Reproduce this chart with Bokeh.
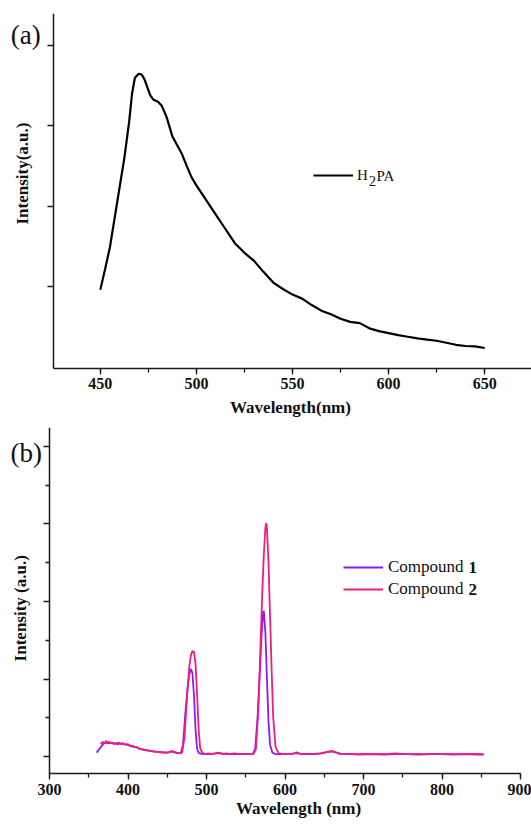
import math
from bokeh.plotting import figure
from bokeh.layouts import column
from bokeh.models import (SingleIntervalTicker, FixedTicker, Legend, LegendItem, Label,
                          CustomJSTickFormatter)
from bokeh.embed import file_html
from bokeh.resources import INLINE

# ---------------- data: panel (a) H2PA emission ----------------
wl_a = [450, 452.5, 455, 457.5, 460, 462.5, 465, 466.5, 468, 470, 471.5, 473, 474.5,
        476, 477.5, 480, 482, 484.5, 487.5, 490, 492.5, 495, 497.5, 500, 505, 510,
        515, 520, 525, 530, 535, 540, 545, 550, 555, 560, 565, 570, 575, 580, 585,
        590, 595, 600, 605, 610, 615, 620, 625, 630, 635, 640, 645, 650]
int_a = [0.96, 1.22, 1.49, 1.86, 2.23, 2.60, 3.05, 3.40, 3.60, 3.65, 3.64, 3.58, 3.48,
         3.38, 3.33, 3.30, 3.25, 3.11, 2.87, 2.76, 2.65, 2.50, 2.36, 2.26, 2.08, 1.90,
         1.72, 1.54, 1.42, 1.32, 1.18, 1.05, 0.97, 0.90, 0.85, 0.77, 0.70, 0.655, 0.60,
         0.56, 0.545, 0.48, 0.445, 0.42, 0.395, 0.375, 0.355, 0.34, 0.325, 0.30, 0.275,
         0.26, 0.255, 0.235]

# ---------------- data: panel (b) compounds 1 and 2 ----------------
wl_c1 = [360, 363, 366, 369, 372, 375, 379, 383, 387, 391, 395, 400, 405, 410, 415,
         420, 426, 432, 438, 444, 450, 455, 460, 464, 467, 470, 473, 476, 478, 480,
         482, 484, 486, 488, 490, 494, 500, 506, 512, 516, 522, 530, 538, 546, 552,
         556, 559, 562, 565, 568, 570, 572, 573, 575, 577, 579, 581, 584, 588, 594,
         600, 608, 615, 622, 632, 645, 655, 660, 665, 672, 682, 695, 710, 725, 740,
         755, 770, 785, 800, 815, 830, 845, 853]
int_c1 = [0.05, 0.09, 0.13, 0.17, 0.18, 0.17, 0.18, 0.17, 0.16, 0.17, 0.16, 0.15, 0.13,
          0.12, 0.10, 0.085, 0.075, 0.065, 0.06, 0.055, 0.05, 0.065, 0.05, 0.045, 0.04,
          0.15, 0.55, 0.90, 1.05, 1.13, 1.08, 0.80, 0.35, 0.10, 0.045, 0.035, 0.03,
          0.035, 0.04, 0.045, 0.035, 0.03, 0.035, 0.03, 0.03, 0.03, 0.035, 0.10, 0.50,
          1.10, 1.55, 1.85, 1.88, 1.60, 1.00, 0.45, 0.15, 0.05, 0.03, 0.03, 0.03, 0.035,
          0.045, 0.03, 0.03, 0.04, 0.06, 0.065, 0.05, 0.035, 0.03, 0.025, 0.03, 0.025,
          0.03, 0.03, 0.025, 0.03, 0.03, 0.025, 0.03, 0.025, 0.025]

wl_c2 = [365, 366, 368, 370, 372, 374, 376, 378, 380, 382, 385, 388, 391, 394, 397,
         400, 403, 406, 409, 412, 415, 418, 421, 425, 429, 433, 437, 441, 445, 449,
         453, 456, 459, 462, 465, 469, 472, 475, 478, 480, 482, 484, 486, 488, 490,
         492, 495, 499, 503, 507, 511, 514, 517, 521, 525, 530, 535, 540, 545, 550,
         555, 560, 563, 566, 569, 571, 573, 575, 576, 577, 579, 581, 583, 585, 588,
         592, 597, 602, 607, 612, 615, 619, 625, 632, 640, 648, 654, 658, 662, 666,
         670, 676, 684, 692, 700, 710, 720, 730, 740, 750, 760, 770, 780, 790, 800,
         810, 820, 830, 840, 853]
int_c2 = [0.16, 0.17, 0.19, 0.17, 0.20, 0.18, 0.19, 0.17, 0.18, 0.16, 0.17, 0.18, 0.16,
          0.17, 0.15, 0.16, 0.13, 0.14, 0.12, 0.12, 0.10, 0.095, 0.085, 0.08, 0.07,
          0.065, 0.06, 0.055, 0.05, 0.05, 0.055, 0.07, 0.06, 0.05, 0.045, 0.05, 0.25,
          0.75, 1.15, 1.30, 1.36, 1.35, 1.20, 0.80, 0.35, 0.10, 0.045, 0.035, 0.04,
          0.03, 0.04, 0.05, 0.045, 0.035, 0.04, 0.03, 0.04, 0.035, 0.03, 0.035, 0.03,
          0.035, 0.10, 0.60, 1.50, 2.10, 2.60, 2.95, 3.01, 2.95, 2.50, 1.80, 1.10, 0.50,
          0.12, 0.04, 0.035, 0.03, 0.035, 0.04, 0.055, 0.035, 0.03, 0.035, 0.03, 0.045,
          0.06, 0.07, 0.065, 0.05, 0.035, 0.03, 0.035, 0.03, 0.035, 0.03, 0.035, 0.03,
          0.04, 0.035, 0.03, 0.035, 0.03, 0.035, 0.03, 0.035, 0.03, 0.03, 0.035, 0.03]

ticks_a_y = [1, 2, 3, 4]
ticks_b_y = [0, 1, 2, 3, 4]
minor_b_y = [0.5, 1.5, 2.5, 3.5]

SERIF = "Liberation Serif"
AXIS_COL = "#1a1a1a"
TXT = "#111111"
PURPLE = "#8B1CF5"
PINK = "#F21B7F"


def style(p):
    p.outline_line_color = None
    p.xgrid.visible = False
    p.ygrid.visible = False
    for ax in (p.xaxis[0], p.yaxis[0]):
        ax.axis_line_color = AXIS_COL
        ax.axis_line_width = 1.5
        ax.major_tick_line_color = AXIS_COL
        ax.minor_tick_line_color = AXIS_COL
        ax.major_tick_line_width = 1.3
        ax.minor_tick_line_width = 1.3
        ax.major_tick_in = 0
        ax.major_tick_out = 6
        ax.minor_tick_in = 0
        ax.minor_tick_out = 4
        ax.major_label_text_font = SERIF
        ax.major_label_text_font_style = "bold"
        ax.major_label_text_font_size = "16px"
        ax.major_label_text_color = TXT
    p.yaxis[0].formatter = CustomJSTickFormatter(code="return ''")
    p.yaxis[0].major_label_standoff = 0
    p.xaxis[0].major_label_standoff = 4


def title_label(x, y, text, angle=0.0):
    return Label(x=x, y=y, text=text, angle=angle, text_font=SERIF, text_font_size="17px",
                 text_font_style="bold", text_align="center", text_baseline="middle",
                 text_color=TXT)


# ---------------- panel (a) ----------------
p1 = figure(width=531, height=420, x_range=(398.07, 674.35), y_range=(-0.6676, 4.40),
            output_backend="svg", toolbar_location=None,
            min_border_left=0, min_border_right=0, min_border_top=13, min_border_bottom=0)
style(p1)
p1.xaxis[0].ticker = SingleIntervalTicker(interval=50, num_minor_ticks=2)
p1.xaxis[0].bounds = (425.65, 674.35)
p1.xaxis[0].fixed_location = -0.02
p1.yaxis[0].ticker = FixedTicker(ticks=ticks_a_y, minor_ticks=[])
p1.yaxis[0].bounds = (-0.02, 4.40)
p1.yaxis[0].fixed_location = 425.65
r_a = p1.line(wl_a, int_a, line_color="black", line_width=2.2)
leg_a = Legend(items=[LegendItem(label="H", renderers=[r_a])],
               location=(313, 235), glyph_width=40, glyph_height=20, label_height=20,
               label_standoff=4, padding=0, margin=0, spacing=2,
               border_line_color=None, background_fill_alpha=0,
               label_text_font=SERIF, label_text_font_size="15px", label_text_color=TXT)
p1.add_layout(leg_a)
p1.add_layout(Label(x=589.8, y=2.32, text="2", text_font=SERIF, text_font_size="14px",
                    text_baseline="middle", text_align="left", text_color=TXT))
p1.add_layout(Label(x=593.7, y=2.382, text="PA", text_font=SERIF, text_font_size="15px",
                    text_baseline="middle", text_align="left", text_color=TXT))
p1.add_layout(Label(x=403.4, y=4.13, text="(a)", text_font=SERIF, text_font_size="27px",
                    text_baseline="middle", text_align="left", text_color=TXT))
p1.add_layout(title_label(548.95, -0.5066, "Wavelength(nm)"))
p1.add_layout(title_label(409.3, 2.407, "Intensity(a.u.)", angle=math.pi / 2))

# ---------------- panel (b) ----------------
p2 = figure(width=531, height=405, x_range=(237.58, 914.0), y_range=(-0.890, 4.245),
            output_backend="svg", toolbar_location=None,
            min_border_left=0, min_border_right=0, min_border_top=7, min_border_bottom=0)
style(p2)
p2.xaxis[0].ticker = SingleIntervalTicker(interval=100, num_minor_ticks=2)
p2.xaxis[0].bounds = (300, 900)
p2.xaxis[0].fixed_location = -0.22
p2.yaxis[0].ticker = FixedTicker(ticks=ticks_b_y, minor_ticks=minor_b_y)
p2.yaxis[0].bounds = (-0.22, 4.245)
p2.yaxis[0].fixed_location = 300
r1 = p2.line(wl_c1, int_c1, line_color=PURPLE, line_width=1.8)
r2 = p2.line(wl_c2, int_c2, line_color=PINK, line_width=1.8)
leg_b = Legend(items=[LegendItem(label="Compound", renderers=[r1]),
                      LegendItem(label="Compound", renderers=[r2])],
               location=(343, 226), glyph_width=40, glyph_height=20, label_height=20,
               label_standoff=5, padding=0, margin=0, spacing=2,
               border_line_color=None, background_fill_alpha=0,
               label_text_font=SERIF, label_text_font_size="17px", label_text_color=TXT)
p2.add_layout(leg_b)
for txt, yv in (("1", 2.435), ("2", 2.152)):
    p2.add_layout(Label(x=833.6, y=yv, text=txt, text_font=SERIF, text_font_size="17px",
                        text_font_style="bold", text_baseline="middle", text_align="left",
                        text_color=TXT))
p2.add_layout(Label(x=250.3, y=3.92, text="(b)", text_font=SERIF, text_font_size="27px",
                    text_baseline="middle", text_align="left", text_color=TXT))
p2.add_layout(title_label(617.2, -0.665, "Wavelength (nm)"))
p2.add_layout(title_label(263.06, 1.913, "Intensity (a.u.)", angle=math.pi / 2))

layout = column(p1, p2, spacing=0)
open("out.html", "w").write(file_html(layout, INLINE))
